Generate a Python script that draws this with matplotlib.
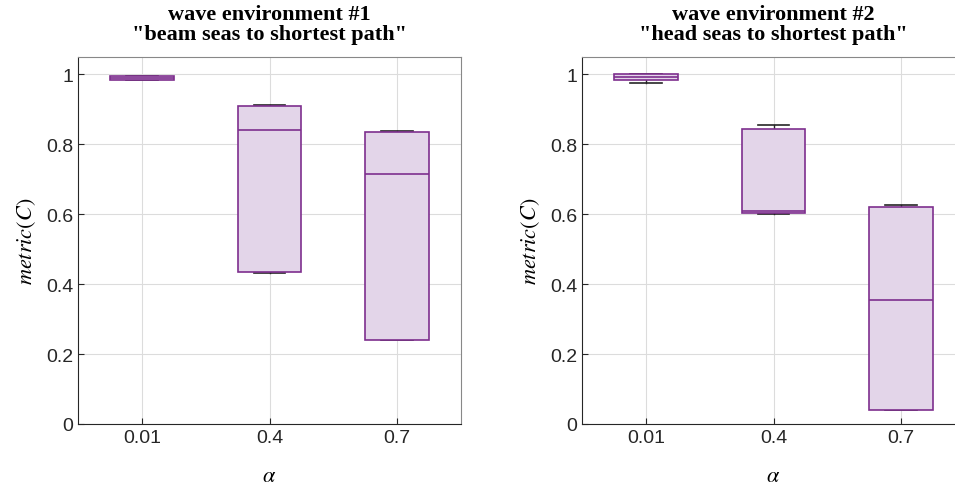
import matplotlib
matplotlib.use("Agg")
import matplotlib.pyplot as plt

plt.rcParams['mathtext.fontset'] = 'stix'

# alpha values on the x axis
alpha_labels = ['0.01', '0.4', '0.7']

# box statistics: low whisker, q1, median, q3, high whisker
env1_whislo = [0.984, 0.433, 0.240]
env1_q1 = [0.985, 0.434, 0.241]
env1_med = [0.990, 0.840, 0.716]
env1_q3 = [0.996, 0.911, 0.836]
env1_whishi = [0.997, 0.912, 0.837]

env2_whislo = [0.977, 0.601, 0.040]
env2_q1 = [0.983, 0.603, 0.041]
env2_med = [0.993, 0.610, 0.355]
env2_q3 = [1.000, 0.845, 0.622]
env2_whishi = [1.001, 0.856, 0.626]

titles = ['wave environment #1\n"beam seas to shortest path"',
          'wave environment #2\n"head seas to shortest path"']

edge = '#7E2F8E'
fill = '#E3D5E9'


def make_stats(lo, q1, med, q3, hi):
    return [dict(whislo=a, q1=b, med=c, q3=d, whishi=e, fliers=[])
            for a, b, c, d, e in zip(lo, q1, med, q3, hi)]


fig = plt.figure(figsize=(9.55, 4.89), dpi=100)
ax1 = fig.add_axes([78 / 955, 64 / 489, 383 / 955, 367 / 489])
ax2 = fig.add_axes([582 / 955, 64 / 489, 383 / 955, 367 / 489])

all_stats = [make_stats(env1_whislo, env1_q1, env1_med, env1_q3, env1_whishi),
             make_stats(env2_whislo, env2_q1, env2_med, env2_q3, env2_whishi)]

for ax, stats, title in zip([ax1, ax2], all_stats, titles):
    ax.bxp(stats, positions=[1, 2, 3], widths=0.5, capwidths=0.25,
           patch_artist=True, showfliers=False,
           boxprops=dict(facecolor=fill, edgecolor=edge, linewidth=1.2, zorder=3),
           medianprops=dict(color=edge, linewidth=1.2, zorder=4),
           whiskerprops=dict(color='#262626', linewidth=1.0, zorder=2),
           capprops=dict(color='#262626', linewidth=1.2, zorder=2))
    ax.set_xlim(0.5, 3.5)
    ax.set_ylim(0, 1.05)
    ax.set_xticks([1, 2, 3])
    ax.set_xticklabels(alpha_labels)
    ax.set_yticks([0, 0.2, 0.4, 0.6, 0.8, 1.0])
    ax.set_yticklabels(['0', '0.2', '0.4', '0.6', '0.8', '1'])
    ax.grid(True, color='#dcdcdc', linewidth=0.8, zorder=0)
    ax.set_axisbelow(True)
    ax.tick_params(direction='in', length=4, labelsize=14, colors='#262626',
                   labelfontfamily='Liberation Sans')
    for s in ['left', 'bottom']:
        ax.spines[s].set_color('#262626')
    for s in ['top', 'right']:
        ax.spines[s].set_color('#888888')
    ax.set_title(title, fontsize=16, fontweight='bold', family='Liberation Serif',
                 pad=13, linespacing=1.0)
    ax.set_xlabel(r'$\alpha$', fontsize=16, labelpad=14)
    ax.set_ylabel(r'$metric(C)$', fontsize=16, labelpad=6)

fig.savefig('out.png', dpi=100)
